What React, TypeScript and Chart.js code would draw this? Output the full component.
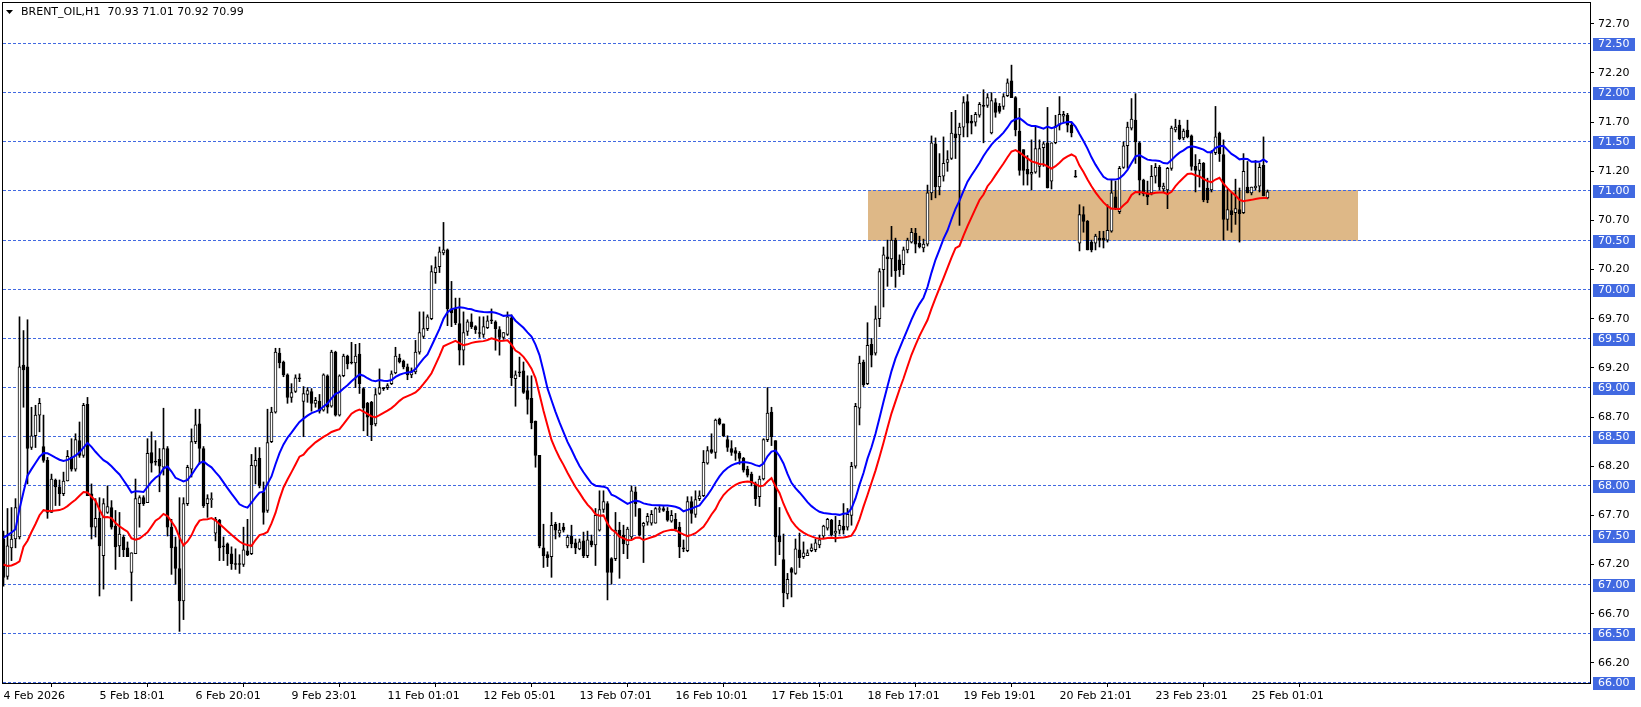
import React, { useEffect, useRef } from "react";
import { Chart, registerables } from "chart.js";

Chart.register(...registerables);

// ---------------- data ----------------
const HEADER_TEXT = "BRENT_OIL,H1  70.93 71.01 70.92 70.99";

const OPEN = [
  67.46, 67.08, 67.37, 67.46, 67.48, 69.23, 69.21, 68.39, 68.51, 68.72,
  68.4, 68.26, 67.73, 68.06, 67.99, 67.92, 68.05, 68.29, 68.17, 68.46,
  68.31, 68.83, 67.92, 67.58, 67.67, 67.29, 67.73, 67.78, 67.59, 67.39,
  67.48, 67.37, 67.12, 67.31, 67.82, 67.88, 67.83, 68.34, 68.25, 68.27,
  68.19, 68.38, 67.58, 67.38, 67.16, 66.83, 67.82, 68.17, 68.45, 68.63,
  68.38, 67.82, 67.86, 67.52, 67.65, 67.38, 67.41, 67.31, 67.2, 67.2,
  67.2, 67.34, 67.31, 68.2, 68.28, 67.94, 67.75, 68.45, 68.75, 69.35,
  69.26, 69.13, 68.9, 68.96, 69.09, 68.86, 68.93, 68.96, 68.84, 68.86,
  68.77, 69.12, 68.81, 69.36, 68.72, 69.12, 69.32, 69.25, 69.25, 69.34,
  68.99, 68.84, 68.85, 68.63, 68.94, 68.99, 69.0, 69.04, 69.15, 69.3,
  69.27, 69.21, 69.13, 69.16, 69.36, 69.52, 69.6, 69.7, 70.17, 70.23,
  70.37, 70.4, 69.8, 69.8, 69.65, 69.38, 69.57, 69.67, 69.62, 69.55,
  69.54, 69.61, 69.68, 69.67, 69.59, 69.51, 69.54, 69.71, 69.09, 69.15,
  69.17, 68.97, 68.89, 68.66, 68.31, 67.37, 67.3, 67.28, 67.61, 67.52,
  67.58, 67.39, 67.49, 67.42, 67.36, 67.44, 67.29, 67.44, 67.4, 67.55,
  67.76, 67.82, 67.26, 67.26, 67.55, 67.5, 67.4, 67.48, 67.94, 67.77,
  67.59, 67.63, 67.62, 67.62, 67.76, 67.77, 67.74, 67.64, 67.66, 67.58,
  67.36, 67.34, 67.84, 67.71, 67.87, 67.9, 68.23, 68.37, 68.34, 68.68,
  68.63, 68.47, 68.38, 68.36, 68.33, 68.28, 68.17, 68.12, 68.02, 67.89,
  68.07, 68.47, 68.75, 68.46, 67.49, 67.25, 66.9, 67.16, 67.11, 67.35,
  67.28, 67.29, 67.34, 67.35, 67.4, 67.49, 67.57, 67.65, 67.52, 67.55,
  67.59, 67.58, 67.7, 68.2, 68.79, 69.26, 69.04, 69.44, 69.35, 69.7,
  70.2, 70.33, 70.31, 70.5, 70.3, 70.25, 70.4, 70.48, 70.57, 70.47,
  70.42, 70.46, 70.98, 71.48, 71.04, 71.15, 71.29, 71.33, 71.58, 71.57,
  71.65, 71.91, 71.71, 71.7, 71.77, 71.87, 71.87, 71.59, 71.9, 71.86,
  71.86, 71.97, 72.12, 71.95, 71.61, 71.42, 71.22, 71.17, 71.19, 71.25,
  71.44, 71.49, 71.1, 71.49, 71.67, 71.76, 71.77, 71.67, 71.14, 70.47,
  70.76, 70.69, 70.48, 70.47, 70.52, 70.52, 70.5, 70.59, 70.94, 70.79,
  71.24, 71.46, 71.64, 71.72, 71.49, 71.11, 70.98, 70.98, 71.15, 71.24,
  71.02, 71.01, 71.23, 71.62, 71.67, 71.54, 71.62, 71.56, 71.25, 71.21,
  71.28, 71.03, 71.01, 71.39, 71.59, 71.37, 70.71, 70.8, 70.78, 70.81,
  70.78, 71.04, 70.98, 71.03, 71.05, 71.26, 70.93,
];

const HIGH = [
  67.54, 67.77, 67.78, 67.87, 69.72, 69.58, 69.69, 68.8, 68.82, 68.89,
  68.72, 68.29, 68.12, 68.07, 68.06, 68.14, 68.36, 68.48, 68.53, 68.65,
  68.84, 68.9, 68.02, 67.87, 67.88, 67.87, 68.0, 67.85, 67.75, 67.73,
  67.5, 67.43, 67.32, 68.07, 67.9, 67.9, 68.48, 68.55, 68.46, 68.38,
  68.79, 68.4, 67.66, 67.48, 67.88, 67.88, 68.21, 68.58, 68.78, 68.78,
  68.4, 67.91, 67.93, 67.68, 67.66, 67.48, 67.42, 67.38, 67.36, 67.3,
  67.58, 67.66, 68.32, 68.39, 68.39, 68.04, 68.78, 68.8, 69.4, 69.4,
  69.27, 69.14, 69.04, 69.13, 69.14, 69.01, 69.0, 68.99, 68.9, 68.93,
  69.14, 69.13, 69.38, 69.37, 69.13, 69.34, 69.33, 69.46, 69.44, 69.45,
  69.0, 68.85, 68.86, 68.99, 69.19, 69.0, 69.04, 69.17, 69.41, 69.34,
  69.28, 69.24, 69.2, 69.48, 69.77, 69.77, 69.74, 70.24, 70.33, 70.43,
  70.68, 70.41, 70.08, 69.91, 69.91, 69.77, 69.69, 69.75, 69.63, 69.72,
  69.72, 69.73, 69.8, 69.68, 69.62, 69.56, 69.77, 69.74, 69.17, 69.31,
  69.26, 69.12, 69.12, 68.66, 68.31, 67.61, 67.33, 67.73, 67.63, 67.62,
  67.62, 67.5, 67.6, 67.46, 67.46, 67.53, 67.54, 67.5, 67.77, 67.95,
  67.95, 67.84, 67.27, 67.73, 67.63, 67.6, 67.58, 68.0, 67.99, 67.77,
  67.63, 67.72, 67.75, 67.78, 67.79, 67.79, 67.78, 67.75, 67.72, 67.63,
  67.45, 67.89, 67.89, 67.95, 67.95, 68.36, 68.4, 68.53, 68.68, 68.69,
  68.63, 68.51, 68.46, 68.39, 68.35, 68.29, 68.2, 68.14, 68.04, 68.1,
  68.48, 69.0, 68.8, 68.46, 67.78, 67.51, 67.11, 67.17, 67.46, 67.52,
  67.43, 67.35, 67.41, 67.46, 67.5, 67.6, 67.67, 67.66, 67.69, 67.65,
  67.82, 67.77, 68.24, 68.84, 69.32, 69.28, 69.66, 69.5, 69.83, 70.21,
  70.43, 70.5, 70.64, 70.52, 70.35, 70.43, 70.52, 70.62, 70.62, 70.54,
  70.51, 71.06, 71.56, 71.54, 71.38, 71.55, 71.41, 71.8, 71.82, 71.69,
  71.96, 71.98, 71.77, 71.8, 71.9, 72.03, 71.99, 72.0, 71.94, 71.89,
  71.99, 72.14, 72.28, 71.96, 71.84, 71.42, 71.36, 71.52, 71.65, 71.52,
  71.5, 71.85, 71.49, 71.77, 71.96, 71.81, 71.79, 71.69, 71.21, 70.86,
  70.84, 70.7, 70.5, 70.56, 70.59, 70.59, 70.86, 71.11, 71.1, 71.25,
  71.5, 71.7, 71.94, 71.99, 71.5, 71.12, 71.1, 71.26, 71.28, 71.26,
  71.08, 71.24, 71.66, 71.73, 71.72, 71.63, 71.72, 71.57, 71.37, 71.32,
  71.29, 71.13, 71.41, 71.86, 71.6, 71.52, 71.02, 70.98, 71.12, 71.03,
  71.38, 71.3, 71.04, 71.31, 71.28, 71.55, 71.01,
];

const LOW = [
  66.98, 67.05, 67.24, 67.37, 67.46, 68.8, 68.02, 68.37, 68.39, 68.55,
  68.24, 67.67, 67.73, 67.8, 67.8, 67.9, 68.05, 68.15, 68.15, 68.29,
  68.29, 67.9, 67.46, 67.48, 66.88, 66.95, 67.72, 67.56, 67.15, 67.28,
  67.28, 67.28, 66.83, 67.31, 67.58, 67.8, 67.83, 68.14, 68.21, 67.94,
  68.11, 67.49, 67.1, 67.0, 66.52, 66.64, 67.8, 68.09, 68.43, 68.22,
  67.78, 67.68, 67.78, 67.44, 67.24, 67.24, 67.19, 67.15, 67.15, 67.11,
  67.18, 67.29, 67.3, 68.02, 67.98, 67.61, 67.73, 68.44, 68.74, 69.2,
  69.11, 68.84, 68.85, 68.95, 69.06, 68.5, 68.85, 68.76, 68.8, 68.74,
  68.76, 68.74, 68.8, 68.71, 68.71, 69.11, 69.19, 69.24, 69.0, 68.94,
  68.56, 68.51, 68.46, 68.61, 68.93, 68.97, 68.98, 69.03, 69.14, 69.25,
  69.19, 69.08, 69.1, 69.14, 69.34, 69.5, 69.58, 69.69, 70.06, 70.17,
  70.35, 69.63, 69.62, 69.64, 69.23, 69.23, 69.53, 69.6, 69.55, 69.51,
  69.51, 69.6, 69.65, 69.38, 69.33, 69.49, 69.53, 69.02, 68.81, 69.11,
  68.94, 68.73, 68.58, 68.19, 67.37, 67.17, 67.18, 67.07, 67.46, 67.48,
  67.53, 67.37, 67.37, 67.31, 67.35, 67.27, 67.27, 67.38, 67.19, 67.54,
  67.73, 66.84, 67.0, 67.24, 67.06, 67.31, 67.26, 67.46, 67.69, 67.49,
  67.22, 67.6, 67.6, 67.62, 67.73, 67.74, 67.64, 67.63, 67.54, 67.27,
  67.33, 67.33, 67.62, 67.68, 67.85, 67.89, 68.22, 68.33, 68.28, 68.62,
  68.5, 68.35, 68.31, 68.26, 68.22, 68.14, 68.09, 68.0, 67.8, 67.79,
  68.06, 68.45, 68.41, 67.19, 67.3, 66.77, 66.85, 66.87, 67.1, 67.17,
  67.26, 67.29, 67.33, 67.33, 67.37, 67.47, 67.55, 67.49, 67.43, 67.51,
  67.51, 67.55, 67.6, 68.18, 68.62, 69.01, 69.03, 69.21, 69.33, 69.62,
  69.82, 70.03, 70.13, 70.02, 70.13, 70.15, 70.37, 70.47, 70.37, 70.42,
  70.38, 70.44, 70.91, 70.93, 70.96, 71.1, 71.2, 71.32, 71.33, 70.65,
  71.55, 71.55, 71.58, 71.66, 71.75, 71.49, 71.85, 71.58, 71.75, 71.79,
  71.83, 71.96, 71.95, 71.56, 71.16, 71.06, 71.06, 71.01, 71.18, 71.14,
  71.25, 71.03, 71.02, 71.48, 71.62, 71.7, 71.6, 71.55, 71.14, 70.39,
  70.58, 70.4, 70.38, 70.4, 70.43, 70.42, 70.48, 70.58, 70.81, 70.77,
  71.23, 71.23, 71.62, 71.28, 70.96, 70.95, 70.86, 70.96, 71.08, 71.01,
  70.99, 70.82, 71.21, 71.6, 71.52, 71.52, 71.54, 71.21, 70.99, 71.04,
  70.89, 70.88, 70.99, 71.37, 71.3, 70.5, 70.6, 70.58, 70.66, 70.48,
  70.77, 70.98, 70.96, 71.01, 70.99, 70.95, 70.92,
];

const CLOSE = [
  67.07, 67.39, 67.46, 67.78, 69.21, 69.18, 68.38, 68.51, 68.72, 68.84,
  68.26, 67.73, 68.07, 67.99, 67.92, 68.05, 68.3, 68.17, 68.47, 68.31,
  68.82, 67.9, 67.58, 67.67, 67.39, 67.82, 67.79, 67.58, 67.38, 67.51,
  67.35, 67.28, 67.32, 67.87, 67.88, 67.82, 68.33, 68.23, 68.24, 68.2,
  68.38, 67.58, 67.37, 67.16, 66.83, 67.82, 68.19, 68.45, 68.62, 68.38,
  67.8, 67.87, 67.87, 67.66, 67.37, 67.38, 67.31, 67.21, 67.2, 67.2,
  67.35, 67.3, 68.21, 68.26, 68.0, 67.73, 68.44, 68.75, 69.36, 69.25,
  69.13, 68.9, 68.95, 69.1, 69.09, 68.94, 68.97, 68.84, 68.87, 68.76,
  69.13, 68.8, 69.36, 68.72, 69.12, 69.32, 69.24, 69.25, 69.32, 69.04,
  68.79, 68.7, 68.62, 68.93, 69.0, 68.99, 69.02, 69.14, 69.32, 69.26,
  69.21, 69.13, 69.17, 69.36, 69.56, 69.6, 69.72, 70.18, 70.22, 70.38,
  70.4, 69.8, 69.76, 69.66, 69.38, 69.56, 69.67, 69.62, 69.59, 69.55,
  69.62, 69.68, 69.68, 69.6, 69.51, 69.56, 69.72, 69.1, 69.13, 69.15,
  68.95, 68.88, 68.64, 68.31, 67.39, 67.29, 67.27, 67.6, 67.55, 67.55,
  67.55, 67.48, 67.41, 67.37, 67.43, 67.29, 67.45, 67.4, 67.7, 67.76,
  67.84, 67.12, 67.12, 67.55, 67.48, 67.41, 67.56, 67.95, 67.82, 67.5,
  67.62, 67.69, 67.71, 67.77, 67.77, 67.75, 67.65, 67.7, 67.56, 67.38,
  67.36, 67.84, 67.72, 67.86, 67.9, 68.24, 68.36, 68.34, 68.67, 68.63,
  68.51, 68.39, 68.34, 68.33, 68.28, 68.16, 68.11, 68.03, 67.87, 68.07,
  68.47, 68.74, 68.5, 67.48, 67.43, 66.91, 67.05, 67.12, 67.36, 67.27,
  67.32, 67.32, 67.37, 67.42, 67.45, 67.59, 67.66, 67.5, 67.54, 67.6,
  67.55, 67.71, 68.2, 68.81, 69.25, 69.03, 69.43, 69.33, 69.7, 70.18,
  70.35, 70.31, 70.5, 70.19, 70.2, 70.4, 70.5, 70.58, 70.46, 70.43,
  70.46, 70.98, 71.49, 71.04, 71.15, 71.28, 71.32, 71.59, 71.54, 71.65,
  71.9, 71.69, 71.69, 71.78, 71.88, 71.86, 71.95, 71.92, 71.8, 71.81,
  71.96, 72.1, 71.95, 71.62, 71.21, 71.21, 71.17, 71.19, 71.43, 71.43,
  71.48, 71.03, 71.49, 71.66, 71.78, 71.78, 71.67, 71.59, 71.14, 70.76,
  70.69, 70.4, 70.4, 70.54, 70.5, 70.5, 70.6, 70.98, 70.82, 71.23,
  71.46, 71.65, 71.73, 71.5, 71.11, 70.97, 70.94, 71.15, 71.24, 71.04,
  71.05, 71.23, 71.64, 71.65, 71.53, 71.61, 71.55, 71.25, 71.21, 71.28,
  70.91, 70.91, 71.39, 71.55, 71.38, 70.71, 70.81, 70.76, 70.82, 70.77,
  71.2, 70.98, 71.04, 71.05, 71.24, 70.95, 70.99,
];

// bar index of each time label on the x axis, and the label text
const X_TICK_BARS = [0, 24, 48, 72, 96, 120, 144, 168, 192, 216, 240, 264, 288, 312];
const X_TICK_LABELS = [
  "4 Feb 2026", "5 Feb 18:01", "6 Feb 20:01", "9 Feb 23:01", "11 Feb 01:01",
  "12 Feb 05:01", "13 Feb 07:01", "16 Feb 10:01", "17 Feb 15:01", "18 Feb 17:01",
  "19 Feb 19:01", "20 Feb 21:01", "23 Feb 23:01", "25 Feb 01:01",
];

// price scale ticks and horizontal level lines
const Y_TICKS = [66.2, 66.7, 67.2, 67.7, 68.2, 68.7, 69.2, 69.7, 70.2, 70.7, 71.2, 71.7, 72.2, 72.7];
const LEVELS = [66.0, 66.5, 67.0, 67.5, 68.0, 68.5, 69.0, 69.5, 70.0, 70.5, 71.0, 71.5, 72.0, 72.5];

// rectangle zone (bar index range, price range)
const ZONE_BARS = [216, 338.6];
const ZONE_PRICES = [70.5, 71.0];

// moving averages of High (blue) and Low (red); first visible values
const MA_PERIOD = 20;
const MA_HIGH_FIRST = 67.47;
const MA_LOW_FIRST = 67.2;

// visible ranges
const X_RANGE = [-0.125, 396.625];
const Y_RANGE = [65.9949, 72.912];

// ---------------- styling ----------------
const FONT = "DejaVu Sans";
const LEVEL_COLOR = "#4169E1";
const ZONE_COLOR = "#DEB887";

function movingAverage(src: number[], first: number, period: number): number[] {
  const k = 2 / (period + 1);
  const out: number[] = [];
  let v = first;
  src.forEach((s, i) => {
    if (i > 0) v = v + k * (s - v);
    out.push(v);
  });
  return out;
}

const rowOf = (py: number) => Math.round(py - 0.5);

const decorPlugin = {
  id: "decor",
  beforeDraw(chart: any) {
    const { ctx, width, height } = chart;
    ctx.save();
    ctx.fillStyle = "#ffffff";
    ctx.fillRect(0, 0, width, height);
    ctx.restore();
  },
  beforeDatasetsDraw(chart: any) {
    const { ctx, chartArea: a, scales } = chart;
    const x = scales.x;
    const y = scales.y;
    ctx.save();
    ctx.beginPath();
    ctx.rect(a.left, a.top, a.right - a.left, a.bottom - a.top);
    ctx.clip();
    // zone
    const zx0 = Math.round(x.getPixelForValue(ZONE_BARS[0]));
    const zx1 = Math.round(x.getPixelForValue(ZONE_BARS[1]));
    const zy0 = rowOf(y.getPixelForValue(ZONE_PRICES[1]));
    const zy1 = rowOf(y.getPixelForValue(ZONE_PRICES[0]));
    ctx.fillStyle = ZONE_COLOR;
    ctx.fillRect(zx0, zy0, zx1 - zx0, zy1 - zy0 + 1);
    // dashed level lines
    ctx.strokeStyle = LEVEL_COLOR;
    ctx.lineWidth = 1;
    ctx.setLineDash([3, 2]);
    for (const v of LEVELS) {
      const r = rowOf(y.getPixelForValue(v)) + 0.5;
      ctx.beginPath();
      ctx.moveTo(a.left, r);
      ctx.lineTo(a.right, r);
      ctx.stroke();
    }
    ctx.restore();
  },
  afterDraw(chart: any) {
    const { ctx, chartArea: a, scales } = chart;
    const y = scales.y;
    ctx.save();
    // frame
    ctx.strokeStyle = "#000";
    ctx.lineWidth = 1;
    ctx.setLineDash([]);
    ctx.strokeRect(a.left - 0.5, a.top - 0.5, a.right - a.left + 1, a.bottom - a.top + 1);
    // level labels on the price scale
    ctx.font = `11px "${FONT}"`;
    ctx.textBaseline = "middle";
    ctx.textAlign = "left";
    for (const v of LEVELS) {
      const r = rowOf(y.getPixelForValue(v));
      ctx.fillStyle = LEVEL_COLOR;
      ctx.fillRect(a.right + 3, r - 5, 42, 13);
      ctx.fillStyle = "#ffffff";
      ctx.fillText(v.toFixed(2), a.right + 8, r + 1.5);
    }
    // header
    ctx.fillStyle = "#000";
    ctx.beginPath();
    ctx.moveTo(6, 10);
    ctx.lineTo(13, 10);
    ctx.lineTo(9.5, 14);
    ctx.closePath();
    ctx.fill();
    ctx.fillText(HEADER_TEXT, 21, 12.5);
    ctx.restore();
  },
};

export default function App() {
  const canvasRef = useRef<HTMLCanvasElement | null>(null);

  useEffect(() => {
    const canvas = canvasRef.current;
    if (!canvas) return;
    const idx = CLOSE.map((_, i) => i);
    const maHigh = movingAverage(HIGH, MA_HIGH_FIRST, MA_PERIOD);
    const maLow = movingAverage(LOW, MA_LOW_FIRST, MA_PERIOD);

    const chart = new Chart(canvas, {
      type: "bar",
      data: {
        datasets: [
          {
            type: "bar",
            label: "wick",
            data: idx.map((i) => ({ x: i, y: [LOW[i], HIGH[i]] })) as any,
            backgroundColor: "#000",
            borderWidth: 0,
            barThickness: 1,
            grouped: false,
            minBarLength: 1,
            order: 3,
          } as any,
          {
            type: "bar",
            label: "body",
            data: idx.map((i) => ({ x: i, y: [OPEN[i], CLOSE[i]] })) as any,
            backgroundColor: idx.map((i) => (CLOSE[i] > OPEN[i] ? "#ffffff" : "#000000")),
            borderColor: "#000",
            borderWidth: 1,
            borderSkipped: false,
            barThickness: 3,
            grouped: false,
            minBarLength: 1,
            order: 2,
          } as any,
          {
            type: "line",
            label: "MA High",
            data: idx.map((i) => ({ x: i, y: maHigh[i] })),
            borderColor: "#0000FF",
            borderWidth: 2,
            pointRadius: 0,
            tension: 0,
            order: 1,
          } as any,
          {
            type: "line",
            label: "MA Low",
            data: idx.map((i) => ({ x: i, y: maLow[i] })),
            borderColor: "#FF0000",
            borderWidth: 2,
            pointRadius: 0,
            tension: 0,
            order: 1,
          } as any,
        ],
      },
      options: {
        responsive: false,
        animation: false,
        events: [],
        layout: { padding: { left: 3, top: 3, right: 0, bottom: 0 } },
        plugins: { legend: { display: false }, tooltip: { enabled: false } },
        scales: {
          x: {
            type: "linear",
            min: X_RANGE[0],
            max: X_RANGE[1],
            offset: false,
            border: { display: false },
            grid: { drawOnChartArea: false, drawTicks: true, tickLength: 4, color: "#000" },
            ticks: {
              autoSkip: false,
              maxRotation: 0,
              minRotation: 0,
              align: "start",
              padding: 3,
              color: "#000",
              font: { family: FONT, size: 11 },
              callback: (v: any) => {
                const k = X_TICK_BARS.indexOf(Number(v));
                return k >= 0 ? X_TICK_LABELS[k] : "";
              },
            },
            afterBuildTicks: (s: any) => {
              s.ticks = X_TICK_BARS.map((v) => ({ value: v }));
            },
            afterFit: (s: any) => {
              s.height = 24;
              s.paddingLeft = 0;
              s.paddingRight = 0;
              s.paddingTop = 0;
              s.paddingBottom = 0;
            },
          },
          y: {
            type: "linear",
            position: "right",
            min: Y_RANGE[0],
            max: Y_RANGE[1],
            border: { display: false },
            grid: { drawOnChartArea: false, drawTicks: true, tickLength: 4, color: "#000" },
            ticks: {
              padding: 4,
              color: "#000",
              font: { family: FONT, size: 11 },
              callback: (v: any) => Number(v).toFixed(2),
            },
            afterBuildTicks: (s: any) => {
              s.ticks = Y_TICKS.map((v) => ({ value: v }));
            },
            afterFit: (s: any) => {
              s.width = 51;
              s.paddingLeft = 0;
              s.paddingRight = 0;
              s.paddingTop = 0;
              s.paddingBottom = 0;
            },
          },
        },
      } as any,
      plugins: [decorPlugin],
    });
    return () => chart.destroy();
  }, []);

  return (
    <div style={{ position: "absolute", left: 0, top: 0, width: 1641, height: 707, background: "#fff" }}>
      <canvas ref={canvasRef} width={1641} height={707} style={{ display: "block", width: 1641, height: 707 }} />
    </div>
  );
}
